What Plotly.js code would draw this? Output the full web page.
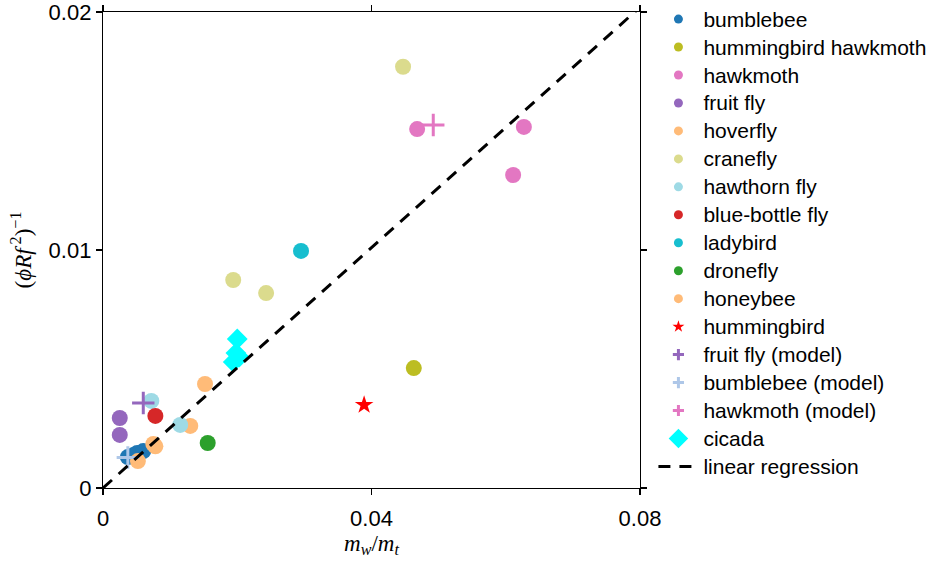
<!DOCTYPE html>
<html>
<head>
<meta charset="utf-8">
<script src="https://cdn.plot.ly/plotly-3.0.1.min.js"></script>
<style>html,body{margin:0;padding:0;background:#fff;}#chart{width:936px;height:565px;}</style>
</head>
<body>
<div id="chart"></div>
<script>
// ---- data ----
const seriesNames = ["bumblebee","hummingbird hawkmoth","hawkmoth","fruit fly","hoverfly","cranefly","hawthorn fly","blue-bottle fly","ladybird","dronefly","honeybee","hummingbird","fruit fly (model)","bumblebee (model)","hawkmoth (model)","cicada"];
const bumblebeeX = [0.0037, 0.0045, 0.0051, 0.0060];
const bumblebeeY = [0.00130, 0.00138, 0.00147, 0.00155];
const hhawkmothX = [0.0463];
const hhawkmothY = [0.00504];
const hawkmothX = [0.0468, 0.0627, 0.0611];
const hawkmothY = [0.01508, 0.01517, 0.01315];
const fruitflyX = [0.0025, 0.0025];
const fruitflyY = [0.00294, 0.00223];
const hoverflyX = [0.0130, 0.0152];
const hoverflyY = [0.00261, 0.00437];
const craneflyX = [0.0194, 0.0243, 0.0447];
const craneflyY = [0.00874, 0.00819, 0.01770];
const hawthornX = [0.0072, 0.0115];
const hawthornY = [0.00366, 0.00265];
const bluebottleX = [0.0078];
const bluebottleY = [0.00303];
const ladybirdX = [0.0295];
const ladybirdY = [0.00996];
const droneflyX = [0.0156];
const droneflyY = [0.00189];
const honeybeeX = [0.0052, 0.0075, 0.0078];
const honeybeeY = [0.00113, 0.00185, 0.00175];
const hummingbirdX = [0.0389];
const hummingbirdY = [0.00349];
const fruitflyModelX = [0.0060];
const fruitflyModelY = [0.00357];
const bumblebeeModelX = [0.0037];
const bumblebeeModelY = [0.00128];
const hawkmothModelX = [0.0492];
const hawkmothModelY = [0.01525];
const cicadaX = [0.0200, 0.0198, 0.0194, 0.0203];
const cicadaY = [0.00626, 0.00567, 0.00529, 0.00550];
const regX = [0, 0.08];
const regY = [0, 0.0202];
const xTickVals = [0, 0.04, 0.08];
const xTickText = ["0", "0.04", "0.08"];
const yTickVals = [0, 0.01, 0.02];
const yTickText = ["0", "0.01", "0.02"];

const seriesX = [bumblebeeX,hhawkmothX,hawkmothX,fruitflyX,hoverflyX,craneflyX,hawthornX,bluebottleX,ladybirdX,droneflyX,honeybeeX,hummingbirdX,fruitflyModelX,bumblebeeModelX,hawkmothModelX,cicadaX];
const seriesY = [bumblebeeY,hhawkmothY,hawkmothY,fruitflyY,hoverflyY,craneflyY,hawthornY,bluebottleY,ladybirdY,droneflyY,honeybeeY,hummingbirdY,fruitflyModelY,bumblebeeModelY,hawkmothModelY,cicadaY];
const colors = ["#1f77b4","#bcbd22","#e377c2","#9467bd","#ffbb78","#dbdb8d","#9edae5","#d62728","#17becf","#2ca02c","#ffbb78","#ff0000","#9467bd","#aec7e8","#e377c2","#00ffff"];
const symbols = ["circle","circle","circle","circle","circle","circle","circle","circle","circle","circle","circle","star","cross-thin","cross-thin","cross-thin","diamond"];
const sizes = [16,16,16,16,16,16,16,16,16,16,16,14,16,16,16,16];
const legSizes = [9,9,9,9,9,9,9,9,9,9,9,9,8,8,8,15];

const legFont = "font-size:21px";
const traces = [];
// data traces
for (let i = 0; i < seriesNames.length; i++) {
  const isCross = symbols[i] === "cross-thin";
  traces.push({
    type: "scatter", mode: "markers", x: seriesX[i], y: seriesY[i],
    name: seriesNames[i], showlegend: false, cliponaxis: false,
    marker: {color: colors[i], symbol: symbols[i], size: sizes[i],
      line: isCross ? {color: colors[i], width: 3} : {width: 0}}
  });
}
traces.push({type:"scatter", mode:"lines", x: regX, y: regY, name:"linear regression", showlegend:false,
  line:{color:"#000", width:3, dash:"12px,9px"}});
// legend-only entries
for (let i = 0; i < seriesNames.length; i++) {
  const isCross = symbols[i] === "cross-thin";
  traces.push({
    type: "scatter", mode: "markers", x: [null], y: [null],
    name: '<span style="' + legFont + '">' + seriesNames[i] + '</span>',
    marker: {color: colors[i], symbol: symbols[i], size: legSizes[i],
      line: isCross ? {color: colors[i], width: 3} : {width: 0}}
  });
}
traces.push({type:"scatter", mode:"lines", x:[null], y:[null],
  name:'<span style="' + legFont + '">linear regression</span>',
  line:{color:"#000", width:3, dash:"12px,9px"}});

const layout = {
  width: 936, height: 565,
  margin: {l: 103, r: 296, t: 12, b: 77, autoexpand: false},
  paper_bgcolor: "#fff", plot_bgcolor: "#fff",
  font: {family: "Liberation Sans, Arial, sans-serif", color: "#000"},
  xaxis: {range: [0, 0.08], tickvals: xTickVals, ticktext: xTickText,
    showgrid: false, zeroline: false, showline: true, linecolor: "#000", linewidth: 1.2,
    mirror: "ticks", ticks: "outside", ticklen: 6, tickwidth: 1.2, tickcolor: "#000",
    ticklabelstandoff: 4, ticklabeloverflow: "allow",
    tickfont: {size: 22, family: "Liberation Sans, Arial, sans-serif"},
    title: {text: "<i>m</i><sub><i>w</i></sub>/<i>m</i><sub><i>t</i></sub>", font: {size: 23, family: "Liberation Serif, DejaVu Serif, serif"}, standoff: 4}},
  yaxis: {range: [0, 0.02], tickvals: yTickVals, ticktext: yTickText,
    showgrid: false, zeroline: false, showline: true, linecolor: "#000", linewidth: 1.2,
    mirror: "ticks", ticks: "outside", ticklen: 6, tickwidth: 1.2, tickcolor: "#000",
    ticklabeloverflow: "allow",
    tickfont: {size: 22, family: "Liberation Sans, Arial, sans-serif"},
    title: {text: "(<i>ϕRf</i><sup> 2</sup>)<sup>−1</sup>", font: {size: 23, family: "Liberation Serif, DejaVu Serif, serif"}, standoff: 10}},
  legend: {x: 1.025, xanchor: "left", y: 1.025, yanchor: "top",
    font: {size: 19.2, family: "Liberation Sans, Arial, sans-serif"},
    traceorder: "normal", tracegroupgap: 0, bgcolor: "rgba(0,0,0,0)", borderwidth: 0,
    itemsizing: "trace", itemwidth: 40, maxheight: 560},
  showlegend: true
};

Plotly.newPlot("chart", traces, layout, {displayModeBar: false, staticPlot: true});
</script>
</body>
</html>
